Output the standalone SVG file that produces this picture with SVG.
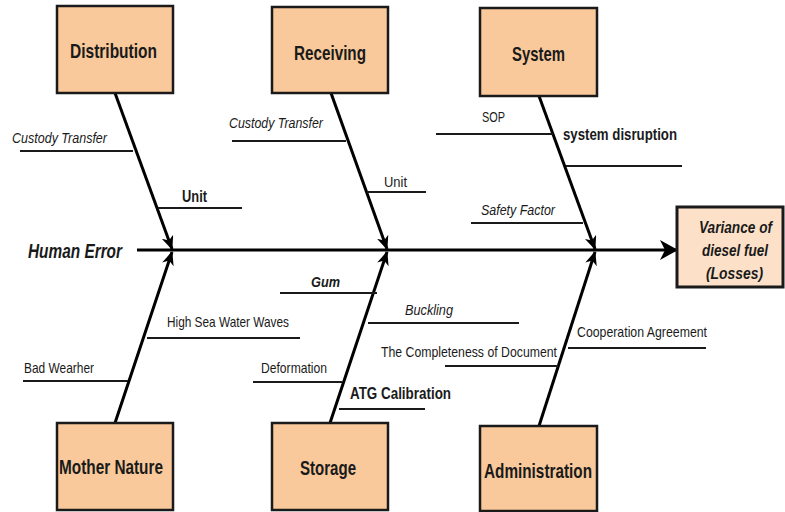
<svg xmlns="http://www.w3.org/2000/svg" width="785" height="512" viewBox="0 0 785 512">
<defs>
<style>
.box{fill:#F9C99B;stroke:#1a1a1a;stroke-width:2.5}
.effect{fill:#FCE1C8;stroke:#1a1a1a;stroke-width:3}
.t{font-family:"Liberation Sans Narrow","Liberation Sans",Arial,sans-serif;fill:#1a1a1a}
.cat{font-size:21px;font-weight:bold}
.s{font-size:15px}
.i{font-style:italic}
.b{font-weight:bold}
.bone{stroke:#000;stroke-width:3;fill:none}
.br{stroke:#1a1a1a;stroke-width:2;fill:none}
</style>
<marker id="ah" markerUnits="userSpaceOnUse" viewBox="0 0 14 12" refX="13" refY="6" markerWidth="14" markerHeight="12" orient="auto">
<path d="M0,0 L14,6 L0,12 L4,6 Z" fill="#000"/>
</marker>
<marker id="ahBig" markerUnits="userSpaceOnUse" viewBox="0 0 18 20" refX="17" refY="10" markerWidth="18" markerHeight="20" orient="auto">
<path d="M0,0 L18,10 L0,20 L5,10 Z" fill="#000"/>
</marker>
</defs>
<rect width="785" height="512" fill="#fff"/>
<g id="connectors">
<line class="bone" x1="137" y1="250" x2="677" y2="250" stroke-width="5" marker-end="url(#ahBig)"/>
<line class="bone" x1="115" y1="93" x2="172" y2="249" marker-end="url(#ah)"/>
<line class="bone" x1="331" y1="93" x2="387" y2="249" marker-end="url(#ah)"/>
<line class="bone" x1="539" y1="96" x2="595" y2="249" marker-end="url(#ah)"/>
<line class="bone" x1="115" y1="423" x2="172" y2="252" marker-end="url(#ah)"/>
<line class="bone" x1="330" y1="423" x2="387" y2="252" marker-end="url(#ah)"/>
<line class="bone" x1="539" y1="426" x2="595" y2="252" marker-end="url(#ah)"/>
<line class="br" x1="20" y1="151" x2="133" y2="151"/>
<line class="br" x1="158" y1="208" x2="242" y2="208"/>
<line class="br" x1="232" y1="141" x2="346" y2="141"/>
<line class="br" x1="367" y1="192" x2="426" y2="192"/>
<line class="br" x1="436" y1="134" x2="553" y2="134"/>
<line class="br" x1="566" y1="166" x2="682" y2="166"/>
<line class="br" x1="471" y1="223" x2="583" y2="223"/>
<line class="br" x1="147" y1="338" x2="300" y2="338"/>
<line class="br" x1="23" y1="381" x2="128" y2="381"/>
<line class="br" x1="280" y1="293" x2="377" y2="293"/>
<line class="br" x1="368" y1="323" x2="519" y2="323"/>
<line class="br" x1="253" y1="382" x2="342" y2="382"/>
<line class="br" x1="339" y1="409" x2="425" y2="409"/>
<line class="br" x1="445" y1="366" x2="558" y2="366"/>
<line class="br" x1="568" y1="348" x2="706" y2="348"/>
</g>
<g id="distribution"><rect class="box" x="57" y="6" width="116" height="87"/><text class="t cat" x="70" y="58" textLength="87" lengthAdjust="spacingAndGlyphs">Distribution</text></g>
<g id="receiving"><rect class="box" x="272" y="7" width="116" height="86"/><text class="t cat" x="294" y="60" textLength="72" lengthAdjust="spacingAndGlyphs">Receiving</text></g>
<g id="system"><rect class="box" x="480" y="8" width="117" height="88"/><text class="t cat" x="512" y="61" textLength="53" lengthAdjust="spacingAndGlyphs">System</text></g>
<g id="mother-nature"><rect class="box" x="57" y="423" width="116" height="87"/><text class="t cat" x="59" y="474" textLength="104" lengthAdjust="spacingAndGlyphs">Mother Nature</text></g>
<g id="storage"><rect class="box" x="272" y="423" width="116" height="87"/><text class="t cat" x="300" y="475" textLength="56" lengthAdjust="spacingAndGlyphs">Storage</text></g>
<g id="administration"><rect class="box" x="480" y="426" width="117" height="85"/><text class="t cat" x="484" y="478" textLength="108" lengthAdjust="spacingAndGlyphs">Administration</text></g>
<g id="effect"><rect class="effect" x="677" y="207" width="106" height="80"/>
<text class="t i b" font-size="16" x="699" y="233" textLength="73" lengthAdjust="spacingAndGlyphs">Variance of</text>
<text class="t i b" font-size="16" x="702" y="256" textLength="66" lengthAdjust="spacingAndGlyphs">diesel fuel</text>
<text class="t i b" font-size="16" x="706" y="279" textLength="57" lengthAdjust="spacingAndGlyphs">(Losses)</text>
</g>
<g id="labels">
<text class="t i b" font-size="20" x="28" y="258" textLength="94" lengthAdjust="spacingAndGlyphs">Human Error</text>
<text class="t s i" x="12" y="143" textLength="95" lengthAdjust="spacingAndGlyphs">Custody Transfer</text>
<text class="t b" font-size="16" x="182" y="202" textLength="25" lengthAdjust="spacingAndGlyphs">Unit</text>
<text class="t s i" x="229" y="128" textLength="94" lengthAdjust="spacingAndGlyphs">Custody Transfer</text>
<text class="t s" x="384" y="187" textLength="23" lengthAdjust="spacingAndGlyphs">Unit</text>
<text class="t s" x="482" y="122" textLength="23" lengthAdjust="spacingAndGlyphs">SOP</text>
<text class="t b" font-size="16" x="563" y="140" textLength="114" lengthAdjust="spacingAndGlyphs">system disruption</text>
<text class="t s i" x="481" y="215" textLength="74" lengthAdjust="spacingAndGlyphs">Safety Factor</text>
<text class="t s" x="167" y="327" textLength="122" lengthAdjust="spacingAndGlyphs">High  Sea Water Waves</text>
<text class="t s" x="24" y="373" textLength="70" lengthAdjust="spacingAndGlyphs">Bad Wearher</text>
<text class="t i b" font-size="15" x="311" y="287" textLength="29" lengthAdjust="spacingAndGlyphs">Gum</text>
<text class="t s i" x="405" y="315" textLength="48" lengthAdjust="spacingAndGlyphs">Buckling</text>
<text class="t s" font-size="16" x="381" y="357" textLength="176" lengthAdjust="spacingAndGlyphs">The Completeness of Document</text>
<text class="t s" x="261" y="373" textLength="66" lengthAdjust="spacingAndGlyphs">Deformation</text>
<text class="t b" font-size="16" x="350" y="399" textLength="101" lengthAdjust="spacingAndGlyphs">ATG Calibration</text>
<text class="t s" x="577" y="337" textLength="130" lengthAdjust="spacingAndGlyphs">Cooperation Agreement</text>
</g>
</svg>
